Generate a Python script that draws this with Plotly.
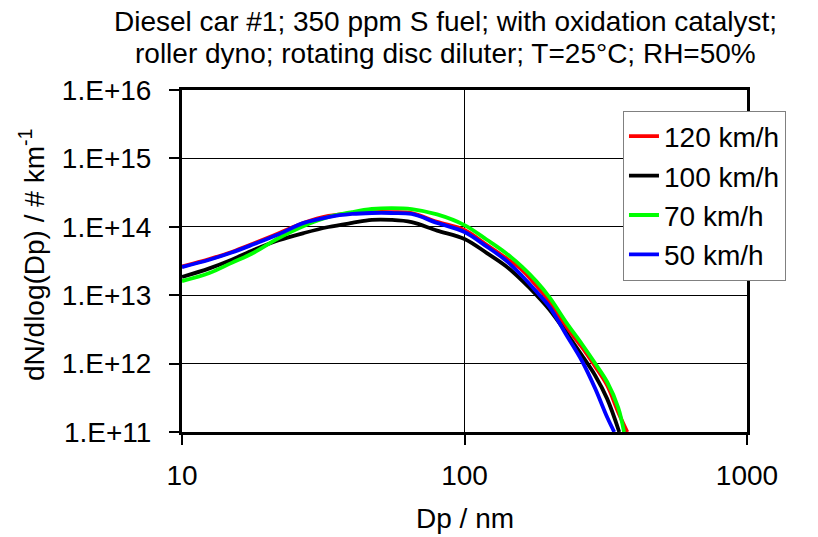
import plotly.graph_objects as go

# ---- data ----
dp_common = [10, 12.5, 15, 18, 22, 27, 33, 40, 47, 55, 65, 80, 100, 120, 140,
             160, 180, 200, 230, 260, 290, 320]

dp_120 = dp_common + [350, 377]
n_120 = [2.62e13, 3.38e13, 4.29e13, 5.74e13, 8.05e13, 1.14e14, 1.44e14, 1.59e14,
         1.64e14, 1.64e14, 1.59e14, 1.18e14, 8.97e13, 5.40e13, 3.51e13, 2.33e13,
         1.36e13, 8.02e12, 3.37e12, 1.75e12, 9.10e11, 4.79e11, 1.95e11, 1.0e11]

dp_100 = dp_common + [353]
n_100 = [1.85e13, 2.47e13, 3.30e13, 4.62e13, 6.35e13, 8.11e13, 9.93e13, 1.14e14,
         1.26e14, 1.26e14, 1.17e14, 8.80e13, 6.64e13, 4.13e13, 2.67e13, 1.63e13,
         9.98e12, 6.12e12, 2.77e12, 1.33e12, 6.71e11, 3.05e11, 1.0e11]

dp_70 = dp_common + [350, 367]
n_70 = [1.61e13, 2.11e13, 2.97e13, 4.21e13, 6.85e13, 1.03e14, 1.39e14, 1.64e14,
        1.82e14, 1.88e14, 1.82e14, 1.52e14, 1.06e14, 6.47e13, 4.15e13, 2.59e13,
        1.58e13, 9.31e12, 3.91e12, 1.95e12, 1.01e12, 5.38e11, 2.27e11, 1.0e11]

dp_50 = dp_common + [339]
n_50 = [2.58e13, 3.30e13, 4.20e13, 5.60e13, 7.80e13, 1.14e14, 1.39e14, 1.54e14,
        1.59e14, 1.59e14, 1.54e14, 1.14e14, 8.40e13, 5.12e13, 3.24e13, 1.91e13,
        1.12e13, 6.76e12, 2.58e12, 1.11e12, 4.34e11, 1.64e11, 1.0e11]

series_names = ["120 km/h", "100 km/h", "70 km/h", "50 km/h"]
series_colors = ["#FF0000", "#000000", "#00FF00", "#0000FF"]

x_tickvals = [10, 100, 1000]
x_ticktext = ["10", "100", "1000"]
y_tickvals = [1e11, 1e12, 1e13, 1e14, 1e15, 1e16]
y_ticktext = ["1.E+11", "1.E+12", "1.E+13", "1.E+14", "1.E+15", "1.E+16"]

title_lines = ["Diesel car #1; 350 ppm S fuel; with oxidation catalyst;",
               "roller dyno; rotating disc diluter; T=25°C; RH=50%"]
x_title = "Dp / nm"
y_title = "dN/dlog(Dp) / # km<sup>-1</sup>"

FONT = "Liberation Sans, Arial, sans-serif"

fig = go.Figure()
for xs, ys, name, col in zip([dp_120, dp_100, dp_70, dp_50],
                             [n_120, n_100, n_70, n_50],
                             series_names, series_colors):
    fig.add_trace(go.Scatter(x=xs, y=ys, mode="lines", name=name,
                             line=dict(color=col, width=3.8),
                             line_shape="spline"))

fig.update_layout(
    width=818, height=537,
    margin=dict(l=182, r=71, t=90, b=105),
    paper_bgcolor="white", plot_bgcolor="white",
    font=dict(family=FONT, size=28, color="black"),
    legend=dict(x=0.7805, y=0.94, xanchor="left", yanchor="top",
                bgcolor="white", bordercolor="#808080", borderwidth=1,
                font=dict(size=28), itemwidth=30, tracegroupgap=0),
    showlegend=True,
)

fig.update_xaxes(type="log", range=[1, 3], tickvals=x_tickvals,
                 ticktext=x_ticktext, showgrid=True, gridcolor="black",
                 gridwidth=1, showline=True, linecolor="black", linewidth=3,
                 mirror=True, ticks="outside", ticklen=10, tickwidth=2,
                 tickcolor="black", zeroline=False, ticklabelstandoff=6,
                 tickfont=dict(size=28))
fig.update_yaxes(type="log", range=[11, 16], tickvals=y_tickvals,
                 ticktext=y_ticktext, showgrid=True, gridcolor="black",
                 gridwidth=1, showline=True, linecolor="black", linewidth=3,
                 mirror=True, ticks="outside", ticklen=10, tickwidth=2,
                 tickcolor="black", zeroline=False, ticklabelstandoff=12,
                 tickfont=dict(size=28))

# chart title (two lines)
fig.add_annotation(text=title_lines[0], xref="paper", yref="paper",
                   x=0.4655, y=1.199, xanchor="center", yanchor="middle",
                   showarrow=False, font=dict(size=28))
fig.add_annotation(text=title_lines[1], xref="paper", yref="paper",
                   x=0.4655, y=1.108, xanchor="center", yanchor="middle",
                   showarrow=False, font=dict(size=28))

fig.add_annotation(text=x_title, xref="paper", yref="paper", x=0.5, y=-0.254,
                   xanchor="center", yanchor="middle", showarrow=False,
                   font=dict(size=28))
fig.add_annotation(text=y_title, xref="paper", yref="paper", x=-0.2655,
                   y=0.5175, xanchor="center", yanchor="middle",
                   showarrow=False, textangle=-90, font=dict(size=28))

fig.write_html("out.html")
